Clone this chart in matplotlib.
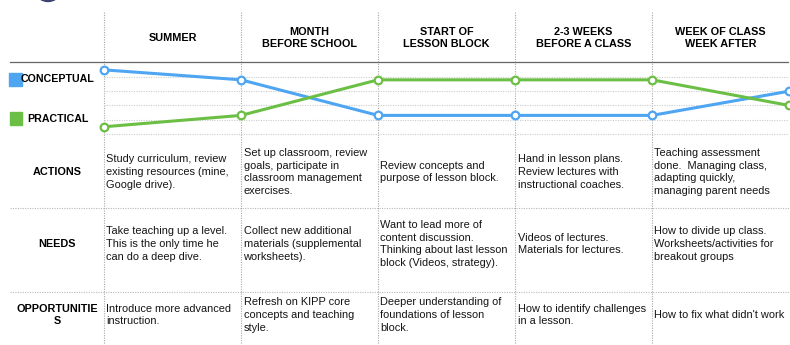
import matplotlib
matplotlib.use("Agg")
import matplotlib.pyplot as plt
from matplotlib.patches import Rectangle, Ellipse

plt.rcParams['font.family'] = ['Liberation Sans', 'DejaVu Sans']

# phases (columns) and the two curves
phases = ["SUMMER", "MONTH\nBEFORE SCHOOL", "START OF\nLESSON BLOCK",
          "2-3 WEEKS\nBEFORE A CLASS", "WEEK OF CLASS\nWEEK AFTER"]
conceptual = [5.5, 4.8, 2.3, 2.3, 2.3, 4.0]
practical = [1.5, 2.3, 4.8, 4.8, 4.8, 3.0]

row_labels = ["ACTIONS", "NEEDS", "OPPORTUNITIE\nS"]
actions = [
    "Study curriculum, review\nexisting resources (mine,\nGoogle drive).",
    "Set up classroom, review\ngoals, participate in\nclassroom management\nexercises.",
    "Review concepts and\npurpose of lesson block.",
    "Hand in lesson plans.\nReview lectures with\ninstructional coaches.",
    "Teaching assessment\ndone.  Managing class,\nadapting quickly,\nmanaging parent needs",
]
needs = [
    "Take teaching up a level.\nThis is the only time he\ncan do a deep dive.",
    "Collect new additional\nmaterials (supplemental\nworksheets).",
    "Want to lead more of\ncontent discussion.\nThinking about last lesson\nblock (Videos, strategy).",
    "Videos of lectures.\nMaterials for lectures.",
    "How to divide up class.\nWorksheets/activities for\nbreakout groups",
]
opportunities = [
    "Introduce more advanced\ninstruction.",
    "Refresh on KIPP core\nconcepts and teaching\nstyle.",
    "Deeper understanding of\nfoundations of lesson\nblock.",
    "How to identify challenges\nin a lesson.",
    "How to fix what didn't work",
]

BLUE = '#4ea5f2'
GREEN = '#6cbf45'
W, H = 790, 345

fig = plt.figure(figsize=(W / 100, H / 100), dpi=100)

# background axes in pixel coords for the table layout
bg = fig.add_axes([0, 0, 1, 1])
bg.set_xlim(0, W)
bg.set_ylim(H, 0)
bg.axis('off')

col_x0, col_w = 104, 137
dots = (0, (1, 1.2))

# cropped logo at the top
bg.add_patch(Ellipse((48, -7), 22, 17, color='#3d4170', clip_on=True))

for i in range(len(phases)):
    x = col_x0 + i * col_w
    bg.plot([x, x], [12, H], color='#a8a8a8', lw=0.8, ls=dots)
bg.plot([10, 788], [62, 62], color='#666666', lw=0.9)
for y in (208, 292):
    bg.plot([10, W], [y, y], color='#b8b8b8', lw=0.8, ls=dots)

for i, p in enumerate(phases):
    bg.text(col_x0 + (i + 0.5) * col_w, 38, p, ha='center', va='center',
            fontsize=7.8, fontweight='bold', linespacing=1.35)

# legend
bg.add_patch(Rectangle((9, 73), 13, 13, color=BLUE))
bg.text(21, 79.5, "CONCEPTUAL", ha='left', va='center', fontsize=7.7, fontweight='bold')
bg.add_patch(Rectangle((10, 112), 12, 13, color=GREEN))
bg.text(27, 119, "PRACTICAL", ha='left', va='center', fontsize=7.7, fontweight='bold')

row_y = [172, 244, 315]
for label, y, cells in zip(row_labels, row_y, [actions, needs, opportunities]):
    bg.text(57, y, label, ha='center', va='center', fontsize=7.8,
            fontweight='bold', linespacing=1.35)
    for i, t in enumerate(cells):
        bg.text(col_x0 + i * col_w + 2.5, y, t, ha='left', va='center',
                fontsize=7.9, linespacing=1.33, color='#151515')

# line chart
top, bottom = 62.75, 141
ax = fig.add_axes([col_x0 / W, 1 - bottom / H, (5 * col_w) / W,
                   (bottom - top) / H])
ax.set_xlim(0, 5)
ax.set_ylim(0.5, 6.0)
ax.patch.set_alpha(0)
for s in ax.spines.values():
    s.set_visible(False)
ax.set_yticks([1, 2, 3, 4, 5])
ax.set_xticks([])
ax.tick_params(left=False, labelleft=False)
ax.grid(axis='y', color='#cccccc', lw=0.8, ls=dots)
xs = list(range(len(conceptual)))
ax.plot(xs, conceptual, color=BLUE, lw=2.2, marker='o', ms=5.5,
        mfc='white', mew=1.6, clip_on=False, zorder=3)
ax.plot(xs, practical, color=GREEN, lw=2.2, marker='o', ms=5.5,
        mfc='white', mew=1.6, clip_on=False, zorder=3)

fig.savefig('out.png', dpi=100)
